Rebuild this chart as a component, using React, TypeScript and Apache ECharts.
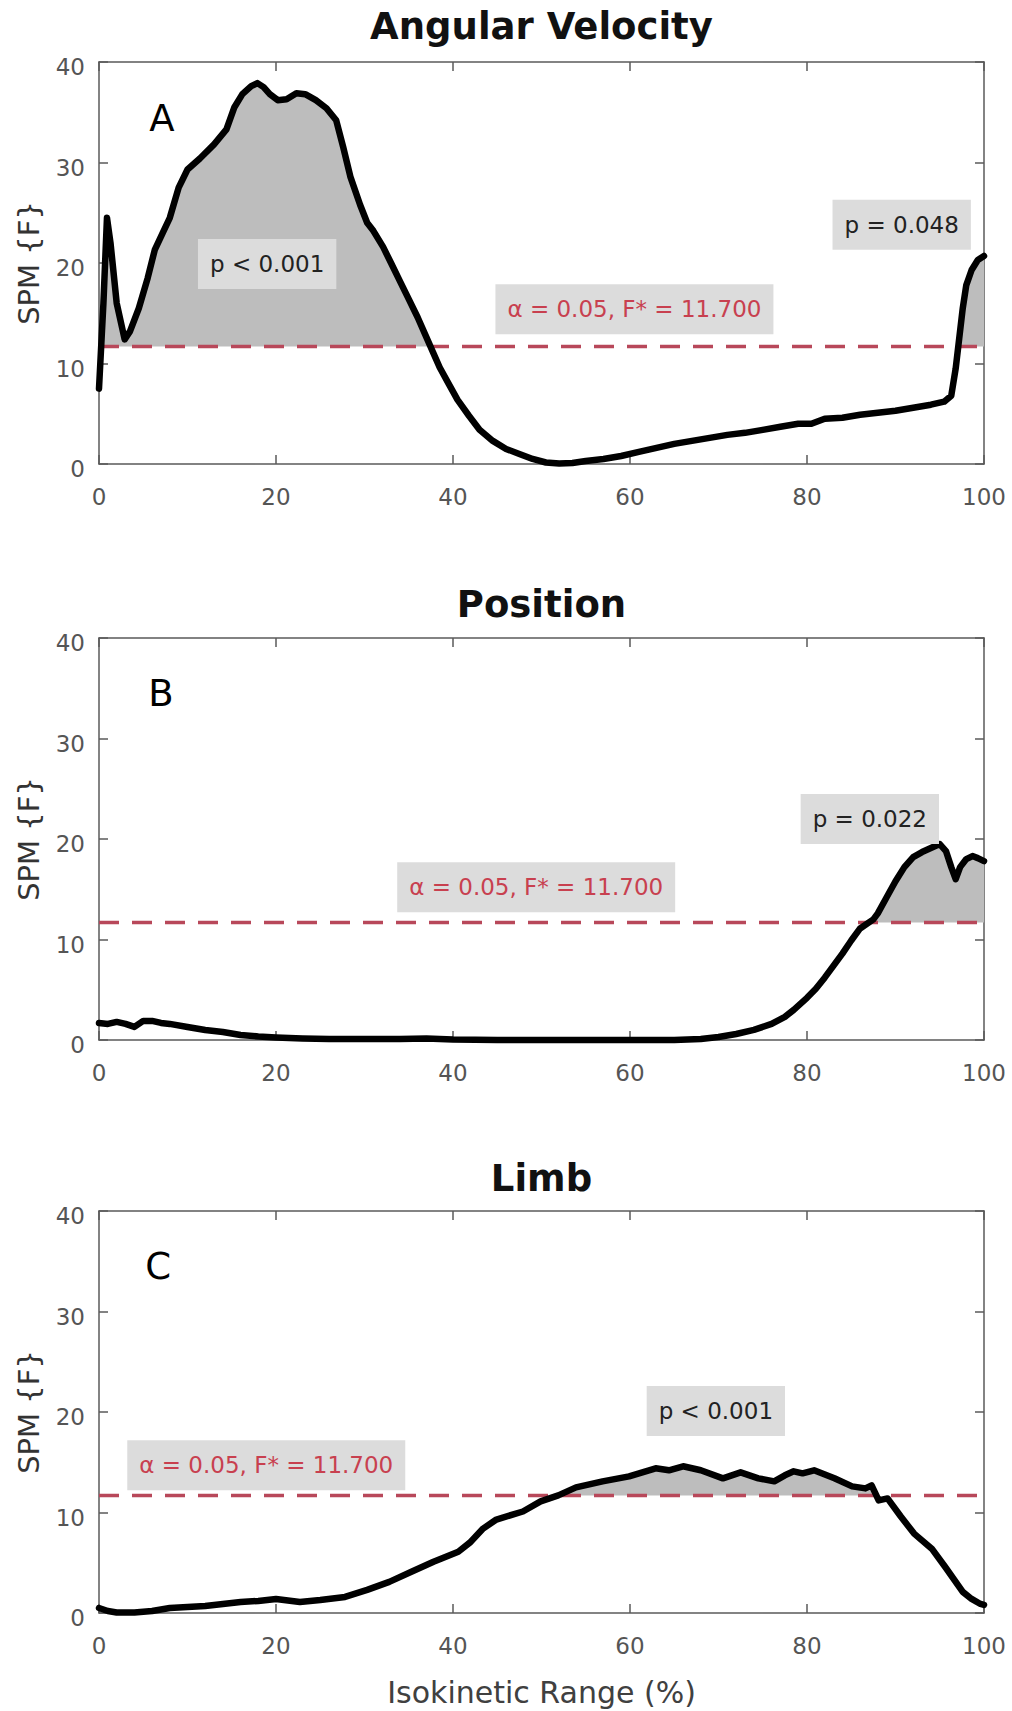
import React, { useEffect, useRef } from 'react';
import * as echarts from 'echarts';

// ---------- data ----------
const THRESHOLD = 11.7;
const X_MIN = 0, X_MAX = 100, X_STEP = 20;
const Y_MIN = 0, Y_MAX = 40, Y_STEP = 10;

const titles = ['Angular Velocity', 'Position', 'Limb'];
const panelLetters = ['A', 'B', 'C'];
const yAxisName = 'SPM {F}';
const xAxisName = 'Isokinetic Range (%)';
const alphaText = 'α = 0.05, F* = 11.700';
const pTextsA = ['p < 0.001', 'p = 0.048'];
const pTextsB = ['p = 0.022'];
const pTextsC = ['p < 0.001'];

const angX = [0, 0.5, 0.9, 1.3, 2.0, 2.9, 3.5, 4.5, 5.5, 6.3, 7.2, 8.0, 9.0, 10.0, 11.4, 13.0, 14.4, 15.3, 16.2, 17.2, 17.9, 18.6, 19.3, 20.2, 21.2, 22.3, 23.3, 24.5, 25.7, 26.8, 27.6, 28.4, 29.5, 30.3, 31.0, 32.1, 33.0, 34.0, 35.0, 36.0, 37.0, 38.5, 39.5, 40.5, 41.8, 43.0, 44.5, 46.0, 47.5, 49.0, 50.5, 52.0, 53.5, 55.0, 57.0, 59.0, 61.0, 63.0, 65.0, 67.0, 69.0, 71.0, 73.0, 75.0, 77.0, 79.0, 80.5, 82.0, 84.0, 86.0, 88.0, 90.0, 92.0, 94.0, 95.5, 96.3, 96.8, 97.2, 97.6, 98.0, 98.6, 99.3, 100];
const angY = [7.5, 16.0, 24.5, 22.0, 16.0, 12.4, 13.2, 15.5, 18.5, 21.3, 23.0, 24.5, 27.5, 29.3, 30.4, 31.8, 33.3, 35.5, 36.8, 37.6, 37.9, 37.5, 36.8, 36.2, 36.3, 36.9, 36.8, 36.2, 35.4, 34.2, 31.5, 28.6, 25.8, 24.0, 23.2, 21.6, 20.0, 18.2, 16.4, 14.6, 12.6, 9.6, 8.0, 6.4, 4.8, 3.4, 2.3, 1.5, 1.0, 0.5, 0.15, 0.05, 0.1, 0.3, 0.5, 0.8, 1.2, 1.6, 2.0, 2.3, 2.6, 2.9, 3.1, 3.4, 3.7, 4.0, 4.0, 4.5, 4.6, 4.9, 5.1, 5.3, 5.6, 5.9, 6.2, 6.8, 9.5, 12.5, 15.5, 17.8, 19.3, 20.3, 20.7];

const posX = [0, 1, 2, 3, 4, 5, 6, 7, 8, 10, 12, 14, 16, 18, 20, 23, 26, 30, 34, 37, 40, 45, 50, 55, 60, 65, 68, 70, 72, 74, 76, 77.5, 78.5, 80, 81, 82, 83, 84, 85, 86, 87.5, 88, 89, 90, 91, 92, 93, 94, 95, 95.7, 96.3, 96.8, 97.3, 98, 98.7, 99.3, 100];
const posY = [1.7, 1.6, 1.8, 1.6, 1.3, 1.9, 1.9, 1.7, 1.6, 1.3, 1.0, 0.8, 0.5, 0.35, 0.25, 0.15, 0.1, 0.1, 0.1, 0.15, 0.05, 0.0, 0.0, 0.0, 0.0, 0.0, 0.1, 0.3, 0.6, 1.0, 1.6, 2.3, 3.0, 4.2, 5.1, 6.2, 7.4, 8.6, 9.9, 11.1, 12.0, 12.6, 14.2, 15.8, 17.2, 18.2, 18.7, 19.1, 19.5, 18.8, 17.2, 16.0, 17.2, 18.0, 18.3, 18.1, 17.8];

const limbX = [0, 1, 2, 4, 6, 8, 10, 12, 14, 16, 18, 20, 22.7, 25, 27.8, 30.3, 32.8, 35.3, 37.8, 40.6, 41.9, 43.4, 44.9, 47.9, 49.9, 51.9, 53.9, 56.9, 59.9, 62.9, 64.4, 66.0, 68.0, 70.5, 72.5, 74.5, 76.3, 77.5, 78.5, 79.5, 80.8, 83.1, 85.1, 86.6, 87.3, 88.1, 89.1, 90.6, 92.1, 94.1, 95.6, 97.6, 98.6, 99.6, 100];
const limbY = [0.5, 0.2, 0.05, 0.05, 0.2, 0.5, 0.6, 0.7, 0.9, 1.1, 1.2, 1.4, 1.1, 1.3, 1.6, 2.3, 3.1, 4.1, 5.1, 6.1, 7.0, 8.4, 9.3, 10.1, 11.1, 11.7, 12.5, 13.1, 13.6, 14.4, 14.2, 14.6, 14.2, 13.4, 14.0, 13.4, 13.1, 13.7, 14.1, 13.9, 14.2, 13.4, 12.6, 12.4, 12.7, 11.2, 11.4, 9.6, 7.9, 6.4, 4.6, 2.1, 1.4, 0.9, 0.8];

// ---------- layout / style ----------
const FONT = '"DejaVu Sans", "Liberation Sans", Arial, sans-serif';
const W = 1012, H = 1711;
const GRID_LEFT = 99, GRID_W = 885, GRID_H = 402;
const GRID_TOPS = [62, 638, 1211];
const TITLE_Y = [26, 604, 1178];
const AXIS_COLOR = '#5a5a5a';
const TICK_LABEL_COLOR = '#555555';
const FILL_COLOR = '#bdbdbd';
const BOX_COLOR = '#dcdcdc';
const THRESH_COLOR = '#b8485a';
const ALPHA_COLOR = '#c8404f';

// annotation anchors in data coordinates (layout only)
const panels = [
  { xs: angX, ys: angY, letterAt: [7.1, 34.4], alphaAt: [60.5, 15.4], pTexts: pTextsA, pAt: [[19.0, 19.9], [90.7, 23.8]] },
  { xs: posX, ys: posY, letterAt: [7.0, 34.5], alphaAt: [49.4, 15.2], pTexts: pTextsB, pAt: [[87.1, 22.0]] },
  { xs: limbX, ys: limbY, letterAt: [6.7, 34.5], alphaAt: [18.9, 14.7], pTexts: pTextsC, pAt: [[69.7, 20.1]] },
];

function fillPoints(xs: number[], ys: number[], t: number) {
  const out: number[][] = [];
  for (let i = 0; i < xs.length; i++) {
    if (i > 0) {
      const a = ys[i - 1] - t, b = ys[i] - t;
      if ((a < 0 && b > 0) || (a > 0 && b < 0)) {
        const f = a / (a - b);
        out.push([xs[i - 1] + f * (xs[i] - xs[i - 1]), t]);
      }
    }
    out.push([xs[i], Math.max(ys[i], t)]);
  }
  return out;
}

function buildOption() {
  const grid: any[] = [];
  const xAxis: any[] = [];
  const yAxis: any[] = [];
  const series: any[] = [];
  const graphic: any[] = [];

  panels.forEach((p, i) => {
    grid.push({ left: GRID_LEFT, top: GRID_TOPS[i], width: GRID_W, height: GRID_H, containLabel: false });
    const tick = { show: true, inside: true, length: 9, lineStyle: { color: AXIS_COLOR, width: 1.5 } };
    const line = { show: true, onZero: false, lineStyle: { color: AXIS_COLOR, width: 1.5 } };
    xAxis.push({
      type: 'value', gridIndex: i, min: X_MIN, max: X_MAX, interval: X_STEP, position: 'bottom',
      axisLine: line, axisTick: tick, splitLine: { show: false },
      axisLabel: { margin: 21, fontSize: 23, color: TICK_LABEL_COLOR, fontFamily: FONT },
      name: i === 2 ? xAxisName : '', nameLocation: 'middle', nameGap: 64,
      nameTextStyle: { fontSize: 30, color: '#404040', fontFamily: FONT },
    });
    xAxis.push({
      type: 'value', gridIndex: i, min: X_MIN, max: X_MAX, interval: X_STEP, position: 'top',
      axisLine: line, axisTick: tick, splitLine: { show: false }, axisLabel: { show: false },
    });
    yAxis.push({
      type: 'value', gridIndex: i, min: Y_MIN, max: Y_MAX, interval: Y_STEP, position: 'left',
      axisLine: line, axisTick: tick, splitLine: { show: false },
      axisLabel: { margin: 14, fontSize: 23, color: TICK_LABEL_COLOR, fontFamily: FONT, verticalAlign: 'top', lineHeight: 10 },
      name: yAxisName, nameLocation: 'middle', nameGap: 56,
      nameTextStyle: { fontSize: 29, color: '#333333', fontFamily: FONT },
    });
    yAxis.push({
      type: 'value', gridIndex: i, min: Y_MIN, max: Y_MAX, interval: Y_STEP, position: 'right',
      axisLine: line, axisTick: tick, splitLine: { show: false }, axisLabel: { show: false },
    });

    const xi = 2 * i, yi = 2 * i;
    series.push({
      type: 'line', xAxisIndex: xi, yAxisIndex: yi, data: fillPoints(p.xs, p.ys, THRESHOLD),
      symbol: 'none', silent: true, z: 1,
      lineStyle: { width: 0, opacity: 0 },
      areaStyle: { color: FILL_COLOR, opacity: 1, origin: THRESHOLD },
    });
    series.push({
      type: 'line', xAxisIndex: xi, yAxisIndex: yi, data: [[X_MIN, THRESHOLD], [X_MAX, THRESHOLD]],
      symbol: 'none', silent: true, z: 2,
      lineStyle: { color: THRESH_COLOR, width: 3.5, type: [20, 13] },
    });
    const boxLabel = (text: string, color: string) => ({
      show: true, position: 'inside', formatter: text, fontSize: 23, fontFamily: FONT, color,
      backgroundColor: BOX_COLOR, padding: [14, 12, 13, 12], lineHeight: 23,
    });
    const mp: any[] = [];
    mp.push({ coord: p.letterAt, label: { show: true, position: 'inside', formatter: panelLetters[i], fontSize: 37, fontFamily: FONT, color: '#000' } });
    mp.push({ coord: p.alphaAt, label: boxLabel(alphaText, ALPHA_COLOR) });
    p.pTexts.forEach((t, k) => mp.push({ coord: p.pAt[k], label: boxLabel(t, '#222222') }));
    series.push({
      type: 'line', xAxisIndex: xi, yAxisIndex: yi, data: p.xs.map((x, k) => [x, p.ys[k]]),
      symbol: 'none', silent: true, z: 3, clip: false,
      lineStyle: { color: '#000000', width: 6.5, join: 'round', cap: 'round' },
      markPoint: {
        silent: true, symbol: 'rect', symbolSize: 1, itemStyle: { color: 'rgba(0,0,0,0)' },
        data: mp,
      },
    });

    graphic.push({
      type: 'text', x: GRID_LEFT + GRID_W / 2, y: TITLE_Y[i],
      style: {
        text: titles[i], fontSize: 37, fontWeight: 'bold', fontFamily: FONT, fill: '#111111',
        textAlign: 'center', textVerticalAlign: 'middle', align: 'center', verticalAlign: 'middle',
      },
    });
  });

  return {
    animation: false,
    backgroundColor: '#ffffff',
    grid, xAxis, yAxis, series, graphic,
  };
}

export default function App() {
  const ref = useRef<HTMLDivElement>(null);
  useEffect(() => {
    document.body.style.margin = '0';
    if (!ref.current) return;
    const chart = echarts.init(ref.current, undefined, { renderer: 'svg', width: W, height: H });
    chart.setOption(buildOption() as any);
    return () => chart.dispose();
  }, []);
  return <div ref={ref} style={{ width: W, height: H }} />;
}
